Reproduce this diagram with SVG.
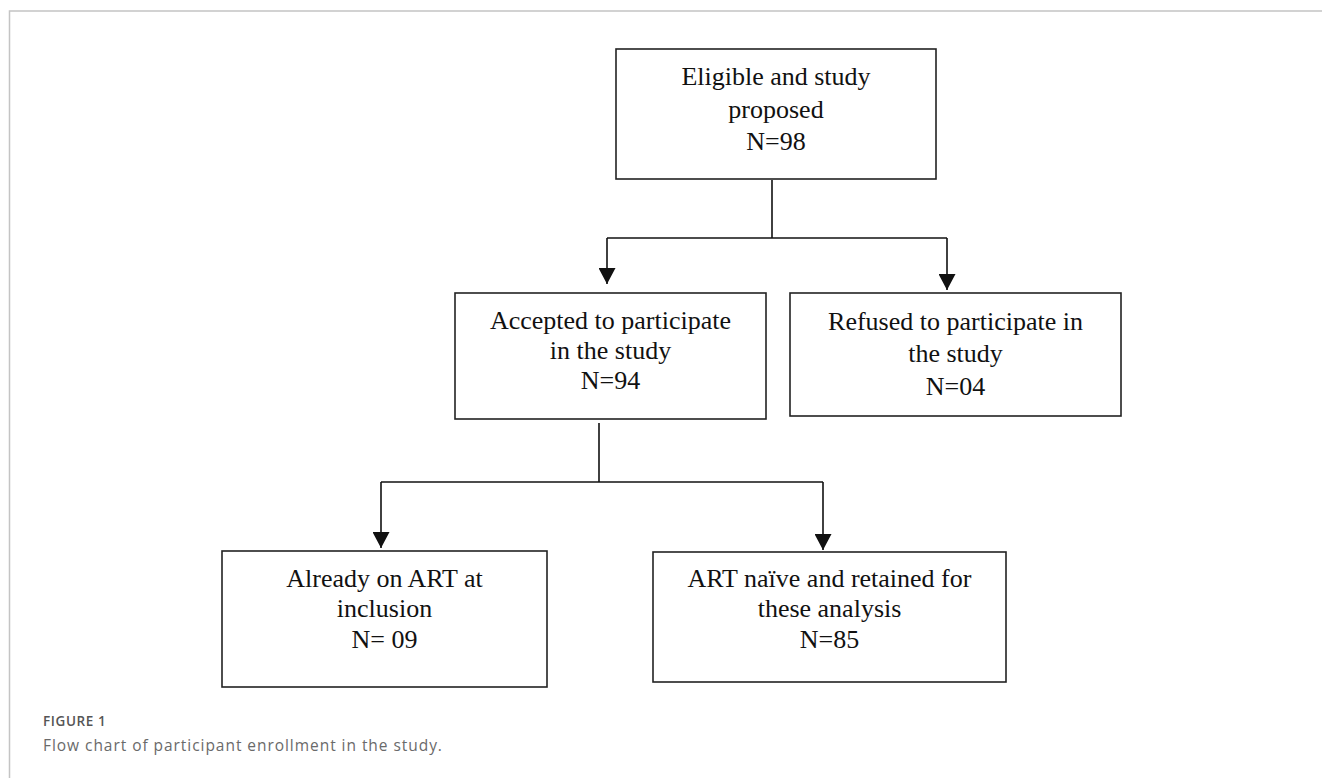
<svg xmlns="http://www.w3.org/2000/svg" width="1322" height="778" viewBox="0 0 1322 778">
  <style>
    .box { fill: #ffffff; stroke: #222222; stroke-width: 1.6; }
    .lbl { font-family: "Liberation Serif", "Times New Roman", serif; font-size: 26px; fill: #111111; text-anchor: middle; }
    .conn { fill: none; stroke: #111111; stroke-width: 1.6; }
    .frame { fill: none; stroke: #c4c4c4; stroke-width: 1.5; }
    .caphead { font-family: "Open Sans", "Liberation Sans", sans-serif; font-size: 13.5px; font-weight: 600; letter-spacing: 0.6px; fill: #555555; }
    .captext { font-family: "Open Sans", "Liberation Sans", sans-serif; font-size: 15.5px; letter-spacing: 0.95px; fill: #6a6a6a; }
  </style>
  <defs>
    <marker id="arrow" viewBox="0 0 16 17" refX="16" refY="8.5" markerWidth="16" markerHeight="17" markerUnits="userSpaceOnUse" orient="auto">
      <path d="M0,0 L16,8.5 L0,17 Z" fill="#111111"/>
    </marker>
  </defs>
  <rect x="0" y="0" width="1322" height="778" fill="#ffffff"/>
  <g id="frame">
    <path class="frame" d="M9.5,778 V11 H1322"/>
  </g>

  <g id="connectors">
    <path class="conn" d="M772,180 V238"/>
    <path class="conn" d="M607,238 H947"/>
    <path class="conn" d="M607,238 V284" marker-end="url(#arrow)"/>
    <path class="conn" d="M947,238 V290" marker-end="url(#arrow)"/>
    <path class="conn" d="M599,423 V482"/>
    <path class="conn" d="M381,482 H823"/>
    <path class="conn" d="M381,482 V548" marker-end="url(#arrow)"/>
    <path class="conn" d="M823,482 V550" marker-end="url(#arrow)"/>
  </g>

  <g id="node-eligible">
    <rect class="box" x="616" y="49" width="320" height="130"/>
    <text class="lbl" x="776" y="85">Eligible and study</text>
    <text class="lbl" x="776" y="118">proposed</text>
    <text class="lbl" x="776" y="150">N=98</text>
  </g>

  <g id="node-accepted">
    <rect class="box" x="455" y="293" width="311" height="126"/>
    <text class="lbl" x="610.5" y="329">Accepted to participate</text>
    <text class="lbl" x="610.5" y="359">in the study</text>
    <text class="lbl" x="610.5" y="389">N=94</text>
  </g>

  <g id="node-refused">
    <rect class="box" x="790" y="293" width="331" height="123"/>
    <text class="lbl" x="955.5" y="330">Refused to participate in</text>
    <text class="lbl" x="955.5" y="362">the study</text>
    <text class="lbl" x="955.5" y="395">N=04</text>
  </g>

  <g id="node-already">
    <rect class="box" x="222" y="551" width="325" height="136"/>
    <text class="lbl" x="384.5" y="587">Already on ART at</text>
    <text class="lbl" x="384.5" y="617">inclusion</text>
    <text class="lbl" x="384.5" y="648">N= 09</text>
  </g>

  <g id="node-naive">
    <rect class="box" x="653" y="552" width="353" height="130"/>
    <text class="lbl" x="829.5" y="587">ART naïve and retained for</text>
    <text class="lbl" x="829.5" y="617">these analysis</text>
    <text class="lbl" x="829.5" y="648">N=85</text>
  </g>

  <g id="caption">
    <text class="caphead" x="43" y="726">FIGURE 1</text>
    <text class="captext" x="43" y="751">Flow chart of participant enrollment in the study.</text>
  </g>
</svg>
